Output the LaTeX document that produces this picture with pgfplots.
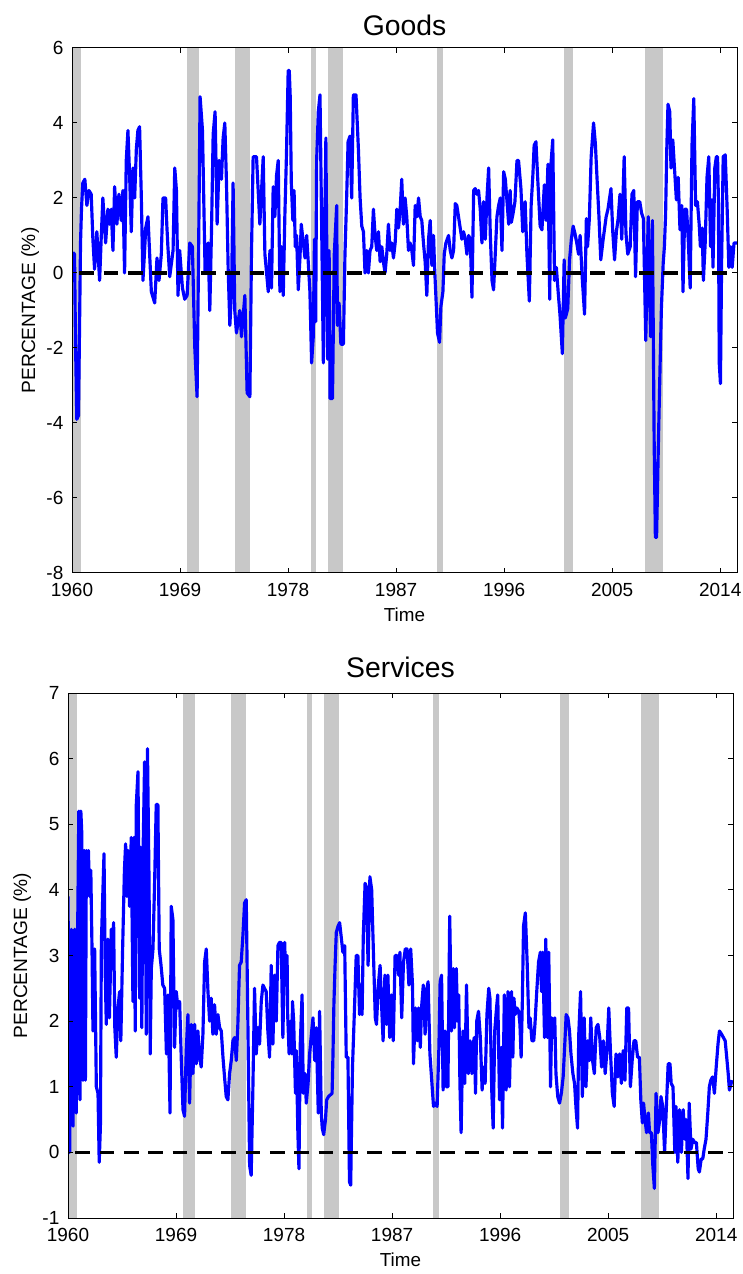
\documentclass[border=0pt]{standalone}
\usepackage{fontspec}
\setmainfont{Liberation Sans}
\usepackage{pgfplots}
\pgfplotsset{compat=1.18}
\definecolor{band}{RGB}{200,200,200}
\definecolor{mblue}{RGB}{0,0,255}

\pgfplotsset{
  panel/.style={
    scale only axis, width=399pt, height=315pt,
    xmin=1960, xmax=2015.4,
    xtick={1960,1969,1978,1987,1996,2005,2014},
    tick align=inside, tick pos=both,
    major tick length=3.2pt,
    axis line style={line width=0.6pt, black},
    every tick/.append style={black, line width=0.6pt},
    /pgf/number format/1000 sep={},
    /pgf/number format/assume math mode=true,
    tick label style={font=\fontsize{11.4}{13}\selectfont},
    xticklabel style={inner sep=0pt, yshift=-6pt},
    yticklabel style={inner sep=0pt, xshift=-5pt},
    every axis title/.style={at={(axis description cs:0.5,1)}, anchor=south, inner sep=0pt, font=\fontsize{17}{20}\selectfont},
    every axis x label/.style={at={(axis description cs:0.5,0)}, anchor=north, yshift=-21pt, inner sep=0pt, font=\fontsize{11.3}{13}\selectfont},
    xlabel={Time},
    ylabel={PERCENTAGE (\%)},
    axis on top,
  },
  bandplot/.style={fill=band, draw=none, forget plot},
  series/.style={mblue, line width=1.9pt, line join=round, mark=none},
  zeroline/.style={black, line width=2pt, dash pattern=on 8.8pt off 5.8pt, forget plot},
}

\pgfplotstableread{
x y
1960.07 0.55
1960.21 0.5
1960.29 -1.8
1960.40 -3.9
1960.54 -3.8
1960.63 -1.4
1960.71 0.8
1960.79 1.7
1960.90 2.4
1961.07 2.5
1961.24 1.8
1961.41 2.2
1961.60 2.1
1961.74 0.9
1961.88 0.1
1962.07 1.1
1962.30 -0.2
1962.43 0.9
1962.57 2.0
1962.80 0.8
1962.99 1.7
1963.13 1.3
1963.27 1.7
1963.41 0.6
1963.55 2.3
1963.74 1.3
1963.91 2.1
1964.10 1.4
1964.24 2.2
1964.38 0.0
1964.52 3.0
1964.66 3.8
1964.80 2.6
1964.94 1.1
1965.08 2.8
1965.22 2.0
1965.36 3.3
1965.49 3.8
1965.63 3.9
1965.77 2.1
1965.91 -0.2
1966.05 0.6
1966.14 1.2
1966.33 1.5
1966.47 0.5
1966.61 -0.5
1966.89 -0.8
1967.08 0.4
1967.25 -0.2
1967.44 0.5
1967.58 2.0
1967.80 2.0
1967.91 1.2
1967.99 0.7
1968.14 -0.1
1968.42 0.6
1968.56 2.8
1968.70 2.2
1968.83 -0.6
1968.97 0.6
1969.20 -0.4
1969.39 -0.7
1969.59 -0.6
1969.81 0.8
1970.03 0.7
1970.23 -2.0
1970.42 -3.3
1970.56 1.0
1970.67 4.7
1970.87 3.8
1970.98 1.9
1971.09 0.0
1971.20 0.4
1971.34 0.8
1971.48 -1.0
1971.62 1.1
1971.76 3.7
1971.92 4.3
1972.09 1.3
1972.26 3.0
1972.45 2.5
1972.59 3.6
1972.73 4.0
1972.87 2.4
1973.01 0.1
1973.15 -1.4
1973.29 -0.5
1973.42 2.4
1973.56 -1.0
1973.70 -1.6
1973.98 -1.0
1974.12 -1.7
1974.40 -0.6
1974.59 -3.2
1974.82 -3.3
1974.95 0.5
1975.09 3.1
1975.37 3.1
1975.65 1.3
1975.93 3.1
1976.07 0.5
1976.21 0.0
1976.35 -0.5
1976.49 0.6
1976.62 -0.4
1976.76 2.3
1976.90 1.5
1977.04 2.6
1977.18 3.0
1977.32 -0.5
1977.46 0.7
1977.60 -0.6
1977.73 1.5
1977.87 3.2
1978.01 5.4
1978.10 5.4
1978.18 4.7
1978.27 2.4
1978.40 1.4
1978.50 2.2
1978.60 0.7
1978.71 1.0
1978.85 -0.45
1978.99 0.4
1979.10 1.3
1979.27 0.8
1979.41 0.4
1979.55 1.0
1979.68 0.3
1979.82 -0.5
1979.96 -2.4
1980.10 -1.7
1980.20 0.9
1980.30 -1.3
1980.38 3.0
1980.52 4.3
1980.66 4.75
1980.80 1.2
1980.94 -2.4
1981.05 1.2
1981.15 3.6
1981.30 -2.3
1981.42 0.6
1981.50 -3.35
1981.70 -3.35
1981.85 0.5
1982.05 1.8
1982.11 -1.4
1982.25 -0.8
1982.40 -1.9
1982.61 -1.9
1982.74 0.5
1982.88 2.0
1983.00 3.5
1983.16 3.65
1983.30 2.0
1983.44 4.75
1983.66 4.75
1983.86 3.3
1984.00 2.0
1984.14 1.25
1984.28 1.1
1984.41 0.0
1984.55 0.6
1984.69 0.0
1984.83 0.6
1984.97 0.7
1985.11 1.7
1985.25 1.0
1985.39 0.6
1985.53 1.1
1985.67 0.3
1985.81 0.7
1985.94 0.3
1986.08 0.0
1986.22 0.5
1986.36 1.3
1986.50 0.6
1986.64 0.8
1986.78 0.4
1986.92 0.8
1987.06 1.7
1987.20 1.2
1987.34 1.7
1987.47 2.5
1987.61 1.3
1987.75 2.0
1987.89 1.5
1988.03 0.6
1988.17 0.8
1988.31 0.6
1988.45 0.2
1988.59 1.8
1988.73 1.5
1988.87 2.0
1989.01 1.5
1989.14 1.4
1989.28 0.8
1989.42 0.3
1989.56 -0.6
1989.70 0.9
1989.84 1.4
1989.98 0.2
1990.12 1.0
1990.20 0.2
1990.34 -0.8
1990.45 -1.6
1990.62 -1.85
1990.73 -0.9
1990.90 -0.5
1991.01 0.5
1991.15 0.8
1991.37 1.0
1991.51 0.6
1991.65 0.4
1991.79 0.6
1991.93 1.85
1992.06 1.8
1992.20 1.5
1992.34 1.2
1992.48 0.9
1992.62 1.1
1992.76 0.9
1992.90 0.5
1993.04 1.0
1993.18 0.9
1993.32 -0.65
1993.46 2.2
1993.59 2.25
1993.73 2.1
1993.87 2.2
1994.01 1.7
1994.15 0.8
1994.29 1.9
1994.43 0.9
1994.57 2.0
1994.71 2.8
1994.85 1.0
1994.99 -0.2
1995.12 -0.45
1995.26 0.5
1995.40 1.5
1995.54 1.8
1995.68 2.0
1995.82 0.6
1995.96 2.7
1996.10 2.5
1996.24 1.9
1996.38 1.3
1996.50 2.2
1996.60 1.35
1996.75 1.6
1996.90 1.9
1997.07 3.0
1997.20 3.0
1997.40 2.25
1997.55 1.1
1997.75 1.9
1997.90 0.5
1998.10 -0.75
1998.25 1.8
1998.40 2.65
1998.50 3.4
1998.65 3.5
1998.80 2.5
1999.00 1.25
1999.15 1.15
1999.35 2.35
1999.50 1.4
1999.65 2.9
1999.80 -0.7
1999.90 2.9
2000.05 3.55
2000.20 -0.2
2000.35 0.15
2000.50 -0.5
2000.65 -1.1
2000.85 -2.15
2001.00 0.35
2001.10 -1.2
2001.30 -0.95
2001.45 0.35
2001.60 0.9
2001.75 1.25
2001.90 1.05
2002.05 0.8
2002.20 0.5
2002.33 1.0
2002.50 -0.1
2002.70 -1.1
2002.85 1.45
2002.95 0.7
2003.10 1.45
2003.25 3.1
2003.45 4.0
2003.60 3.45
2003.75 2.45
2003.90 1.5
2004.05 0.35
2004.25 0.9
2004.50 1.5
2004.65 1.7
2004.90 2.25
2005.05 1.1
2005.20 0.35
2005.35 1.1
2005.50 1.45
2005.65 2.1
2005.80 0.9
2006.00 3.1
2006.15 1.05
2006.30 0.5
2006.50 0.7
2006.65 2.1
2006.80 2.2
2006.95 -0.1
2007.10 1.9
2007.30 1.9
2007.45 1.6
2007.60 1.45
2007.80 -1.8
2008.00 1.5
2008.20 -1.7
2008.35 1.4
2008.50 -4.55
2008.60 -7.05
2008.70 -7.05
2008.85 -4.55
2009.00 -2.35
2009.10 -0.95
2009.25 0.25
2009.35 0.7
2009.45 1.55
2009.55 3.3
2009.65 4.5
2009.80 4.3
2009.90 2.8
2010.05 3.55
2010.20 2.75
2010.35 1.95
2010.50 2.55
2010.65 1.15
2010.80 1.8
2010.90 -0.5
2011.05 1.7
2011.20 1.7
2011.35 0.8
2011.50 -0.4
2011.65 3.4
2011.80 4.65
2011.95 1.8
2012.10 1.9
2012.25 1.3
2012.35 0.7
2012.50 1.2
2012.60 -0.2
2012.75 0.8
2012.90 2.55
2013.05 3.1
2013.20 0.7
2013.30 1.95
2013.40 0.15
2013.55 2.8
2013.68 3.1
2013.78 3.1
2013.85 1.95
2013.92 -2.4
2014.02 -2.95
2014.12 0.35
2014.25 3.1
2014.42 3.15
2014.58 1.7
2014.72 0.15
2014.88 0.7
2015.00 0.15
2015.15 0.8
2015.40 0.8
}\goods

\pgfplotstableread{
x y
1960.00 3.9
1960.07 2.0
1960.14 0.0
1960.28 3.4
1960.42 0.4
1960.56 3.4
1960.69 0.6
1960.80 3.3
1960.90 5.2
1961.00 0.8
1961.07 5.2
1961.14 4.9
1961.25 1.1
1961.35 4.6
1961.45 1.1
1961.53 4.6
1961.62 4.0
1961.70 4.6
1961.80 3.9
1961.90 4.3
1962.00 3.1
1962.08 1.85
1962.22 3.1
1962.36 1.0
1962.50 0.9
1962.60 -0.15
1962.70 0.4
1962.78 3.2
1962.91 4.0
1963.00 4.55
1963.10 2.75
1963.19 1.95
1963.33 3.25
1963.45 2.05
1963.61 3.4
1963.70 2.8
1963.80 3.5
1963.90 1.9
1964.02 1.45
1964.16 2.2
1964.30 2.45
1964.40 1.7
1964.55 3.1
1964.70 4.3
1964.80 4.7
1964.90 3.9
1965.00 4.6
1965.13 3.75
1965.27 4.8
1965.41 2.3
1965.50 4.8
1965.60 1.85
1965.69 5.3
1965.83 5.8
1965.97 2.35
1966.05 4.65
1966.15 1.9
1966.24 4.4
1966.38 5.95
1966.52 1.8
1966.62 6.15
1966.75 4.15
1966.85 1.5
1966.94 2.8
1967.08 3.1
1967.22 4.15
1967.35 5.3
1967.49 5.3
1967.60 3.1
1967.75 2.85
1967.90 2.55
1968.05 2.5
1968.20 1.5
1968.33 2.4
1968.50 0.6
1968.60 3.75
1968.74 3.55
1968.88 1.6
1969.02 2.45
1969.16 2.2
1969.30 2.3
1969.44 1.4
1969.58 0.65
1969.71 0.55
1969.85 1.55
1969.99 2.1
1970.13 0.75
1970.27 1.95
1970.41 1.2
1970.55 1.95
1970.69 1.35
1970.82 1.85
1970.96 1.45
1971.10 1.3
1971.24 1.8
1971.38 2.9
1971.52 3.1
1971.66 2.45
1971.80 2.0
1971.93 2.35
1972.07 1.8
1972.21 2.25
1972.35 1.8
1972.49 2.1
1972.63 1.9
1972.77 1.85
1972.91 1.45
1973.04 1.15
1973.18 0.85
1973.32 0.8
1973.46 1.2
1973.60 1.4
1973.74 1.7
1973.88 1.75
1974.02 1.4
1974.15 1.95
1974.29 2.85
1974.43 2.9
1974.57 3.3
1974.71 3.8
1974.85 3.85
1974.99 1.9
1975.13 -0.2
1975.26 -0.35
1975.40 0.95
1975.54 2.5
1975.68 1.5
1975.82 1.9
1975.96 1.65
1976.10 2.3
1976.24 2.55
1976.37 2.5
1976.51 2.45
1976.65 1.85
1976.79 1.45
1976.93 2.85
1977.07 1.65
1977.21 2.7
1977.35 2.0
1977.49 3.15
1977.62 3.2
1977.76 3.2
1977.90 1.75
1978.05 3.2
1978.15 2.55
1978.25 3.0
1978.30 2.1
1978.42 1.5
1978.55 2.0
1978.65 1.5
1978.70 2.3
1978.80 2.0
1978.95 0.9
1979.02 1.55
1979.15 0.3
1979.24 -0.25
1979.35 1.65
1979.50 2.4
1979.60 0.9
1979.75 1.2
1979.85 0.75
1980.00 1.05
1980.13 1.5
1980.30 1.85
1980.41 2.05
1980.55 1.4
1980.68 1.9
1980.85 0.6
1980.96 2.15
1981.10 0.6
1981.18 0.37
1981.30 0.27
1981.45 0.5
1981.55 0.8
1981.70 0.85
1982.00 0.9
1982.07 1.45
1982.15 2.25
1982.25 2.85
1982.35 3.35
1982.50 3.45
1982.63 3.5
1982.75 3.3
1982.90 3.05
1983.05 3.15
1983.18 1.45
1983.32 1.45
1983.45 -0.45
1983.55 -0.5
1983.70 1.3
1983.85 2.1
1984.01 3.0
1984.15 3.0
1984.29 2.1
1984.40 2.55
1984.50 2.1
1984.60 3.3
1984.75 4.1
1984.85 4.05
1985.00 2.85
1985.15 4.2
1985.30 4.0
1985.45 3.0
1985.60 2.05
1985.70 1.95
1985.85 2.55
1986.00 2.85
1986.10 2.35
1986.25 1.7
1986.40 2.7
1986.55 1.95
1986.65 2.7
1986.80 1.75
1986.95 2.4
1987.10 1.7
1987.25 3.0
1987.40 3.0
1987.55 2.7
1987.65 3.05
1987.80 2.05
1987.95 2.9
1988.10 3.1
1988.25 3.1
1988.40 2.55
1988.55 3.1
1988.70 2.55
1988.78 1.35
1988.95 2.2
1989.10 1.7
1989.20 2.2
1989.35 1.6
1989.45 2.2
1989.60 2.55
1989.75 1.8
1989.90 2.5
1990.00 2.6
1990.15 1.5
1990.30 1.1
1990.45 0.7
1990.60 0.75
1990.75 0.7
1990.90 1.6
1991.00 2.6
1991.12 2.7
1991.25 0.95
1991.40 1.85
1991.50 1.0
1991.65 1.0
1991.80 3.6
1991.95 1.85
1992.10 2.8
1992.20 1.9
1992.35 2.8
1992.45 2.0
1992.55 2.4
1992.65 1.05
1992.75 0.3
1992.90 1.85
1993.05 1.05
1993.20 2.55
1993.35 1.2
1993.50 1.7
1993.65 1.2
1993.75 1.65
1993.85 1.75
1993.95 0.9
1994.05 2.0
1994.20 2.15
1994.35 1.75
1994.50 0.95
1994.60 1.3
1994.75 1.05
1994.90 2.1
1995.05 2.5
1995.15 2.35
1995.30 0.95
1995.42 0.37
1995.55 1.85
1995.70 2.2
1995.80 2.4
1995.95 0.8
1996.10 1.6
1996.20 0.37
1996.35 2.4
1996.50 0.95
1996.65 2.45
1996.78 1.0
1996.95 2.45
1997.06 1.45
1997.15 2.35
1997.25 2.1
1997.40 2.2
1997.55 2.15
1997.65 1.95
1997.75 1.45
1997.85 2.3
1997.95 3.45
1998.10 3.65
1998.25 2.9
1998.40 1.9
1998.50 2.05
1998.65 1.7
1998.80 1.7
1998.90 1.95
1999.05 2.45
1999.20 2.9
1999.35 3.05
1999.45 2.45
1999.55 3.05
1999.70 1.75
1999.80 3.25
1999.95 1.75
2000.05 3.05
2000.20 1.0
2000.30 2.05
2000.45 1.75
2000.55 2.05
2000.65 1.2
2000.80 0.85
2000.95 0.75
2001.10 0.9
2001.25 1.15
2001.40 1.7
2001.50 2.1
2001.65 2.05
2001.78 1.85
2001.90 1.5
2002.06 1.2
2002.20 1.05
2002.33 0.65
2002.45 0.37
2002.55 1.8
2002.70 2.45
2002.85 0.85
2003.00 2.05
2003.15 1.0
2003.30 1.7
2003.45 1.4
2003.55 2.05
2003.70 1.4
2003.85 1.2
2004.00 1.9
2004.15 1.95
2004.30 1.75
2004.45 1.3
2004.60 1.7
2004.75 1.2
2004.90 1.55
2005.05 2.2
2005.20 1.5
2005.35 0.9
2005.50 0.7
2005.65 1.5
2005.80 1.15
2005.95 1.5
2006.10 1.05
2006.25 1.55
2006.40 1.1
2006.55 2.2
2006.70 2.2
2006.85 1.0
2007.00 1.4
2007.15 1.7
2007.30 1.7
2007.45 1.45
2007.60 1.45
2007.72 0.8
2007.85 0.45
2007.95 0.75
2008.10 0.45
2008.20 0.3
2008.35 0.6
2008.45 0.3
2008.60 0.3
2008.72 -0.2
2008.85 -0.55
2008.99 0.9
2009.15 0.3
2009.30 0.5
2009.40 0.85
2009.55 0.7
2009.70 0.0
2009.85 0.7
2010.00 1.35
2010.15 1.35
2010.25 1.05
2010.40 1.0
2010.55 0.0
2010.65 0.7
2010.80 -0.15
2010.95 0.65
2011.10 0.0
2011.25 0.65
2011.40 0.2
2011.50 0.5
2011.65 -0.4
2011.75 0.75
2011.90 0.05
2012.05 0.2
2012.20 0.15
2012.35 0.15
2012.50 -0.25
2012.60 -0.3
2012.75 -0.1
2012.88 -0.1
2013.00 0.05
2013.15 0.2
2013.30 0.6
2013.43 1.0
2013.55 1.1
2013.70 1.15
2013.85 0.9
2014.00 1.3
2014.15 1.65
2014.27 1.85
2014.45 1.8
2014.60 1.75
2014.75 1.7
2014.85 1.5
2015.00 1.2
2015.10 0.95
2015.32 1.1
}\services

\begin{document}
\begin{tikzpicture}
\useasboundingbox (0,0) rectangle (445.8pt,764.4pt);

% ---------- Goods ----------
\begin{axis}[panel,
  at={(43.2pt,420.6pt)}, anchor=south west,
  ymin=-8, ymax=6, ytick={-8,-6,...,6},
  title={Goods},
  every axis title/.append style={yshift=7pt},
  every axis y label/.style={at={(axis description cs:-0.063,0.5)}, anchor=center, rotate=90, inner sep=0pt, font=\fontsize{11.5}{13}\selectfont},
]
\addplot[bandplot] coordinates {(1960.0,-8) (1960.75,-8) (1960.75,6) (1960.0,6)} -- cycle;
\addplot[bandplot] coordinates {(1969.6,-8) (1970.6,-8) (1970.6,6) (1969.6,6)} -- cycle;
\addplot[bandplot] coordinates {(1973.57,-8) (1974.81,-8) (1974.81,6) (1973.57,6)} -- cycle;
\addplot[bandplot] coordinates {(1979.92,-8) (1980.31,-8) (1980.31,6) (1979.92,6)} -- cycle;
\addplot[bandplot] coordinates {(1981.34,-8) (1982.61,-8) (1982.61,6) (1981.34,6)} -- cycle;
\addplot[bandplot] coordinates {(1990.41,-8) (1990.91,-8) (1990.91,6) (1990.41,6)} -- cycle;
\addplot[bandplot] coordinates {(2000.98,-8) (2001.73,-8) (2001.73,6) (2000.98,6)} -- cycle;
\addplot[bandplot] coordinates {(2007.72,-8) (2009.24,-8) (2009.24,6) (2007.72,6)} -- cycle;
\addplot[series] table[x=x,y=y] {\goods};
\addplot[zeroline] coordinates {(1960.6,0) (2015.1,0)};
\end{axis}

% ---------- Services ----------
\begin{axis}[panel,
  at={(40.8pt,33.6pt)}, anchor=south west,
  ymin=-1, ymax=7, ytick={-1,0,...,7},
  title={Services},
  every axis title/.append style={yshift=9pt},
  every axis y label/.style={at={(axis description cs:-0.069,0.5)}, anchor=center, rotate=90, inner sep=0pt, font=\fontsize{11.5}{13}\selectfont},
]
\addplot[bandplot] coordinates {(1960.0,-1) (1960.75,-1) (1960.75,7) (1960.0,7)} -- cycle;
\addplot[bandplot] coordinates {(1969.6,-1) (1970.6,-1) (1970.6,7) (1969.6,7)} -- cycle;
\addplot[bandplot] coordinates {(1973.57,-1) (1974.81,-1) (1974.81,7) (1973.57,7)} -- cycle;
\addplot[bandplot] coordinates {(1979.92,-1) (1980.31,-1) (1980.31,7) (1979.92,7)} -- cycle;
\addplot[bandplot] coordinates {(1981.34,-1) (1982.61,-1) (1982.61,7) (1981.34,7)} -- cycle;
\addplot[bandplot] coordinates {(1990.41,-1) (1990.91,-1) (1990.91,7) (1990.41,7)} -- cycle;
\addplot[bandplot] coordinates {(2000.98,-1) (2001.73,-1) (2001.73,7) (2000.98,7)} -- cycle;
\addplot[bandplot] coordinates {(2007.72,-1) (2009.24,-1) (2009.24,7) (2007.72,7)} -- cycle;
\addplot[series] table[x=x,y=y] {\services};
\addplot[zeroline] coordinates {(1960.6,0) (2015.1,0)};
\end{axis}
\end{tikzpicture}
\end{document}
